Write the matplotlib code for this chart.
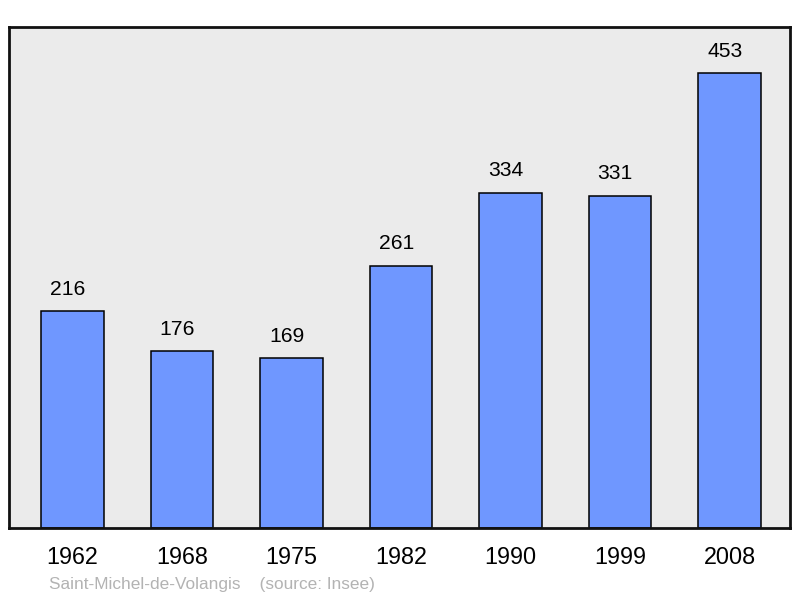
import matplotlib.pyplot as plt

plt.rcParams['font.family'] = ['Liberation Sans', 'DejaVu Sans']

years = ['1962', '1968', '1975', '1982', '1990', '1999', '2008']
population = [216, 176, 169, 261, 334, 331, 453]

fig = plt.figure(figsize=(8, 5.98), dpi=100)
ax = fig.add_axes([9 / 800, 1 - 528 / 598, 781 / 800, 501 / 598])
ax.set_facecolor('#ebebeb')

x = range(len(years))
ax.bar(x, population, width=0.575, color='#6f97ff', edgecolor='black', linewidth=1.1, zorder=2)

for i, v in zip(x, population):
    ax.annotate(str(v), (i, v), xytext=(-3.5, 9), textcoords='offset points',
                ha='center', va='bottom', fontsize=15.2)

ax.set_xlim(-0.58, 6.5525)
ax.set_ylim(0, 499)
ax.set_xticks(list(x))
ax.set_xticklabels(years, fontsize=16.8)
ax.tick_params(axis='x', length=0, pad=13)
ax.set_yticks([])
for s in ax.spines.values():
    s.set_linewidth(2)
    s.set_color('#111111')

fig.text(49 / 800, 1 - 584 / 598, 'Saint-Michel-de-Volangis    (source: Insee)',
         fontsize=12.4, color='#b3b3b3', va='center', ha='left')

fig.savefig('out.png', dpi=100)
